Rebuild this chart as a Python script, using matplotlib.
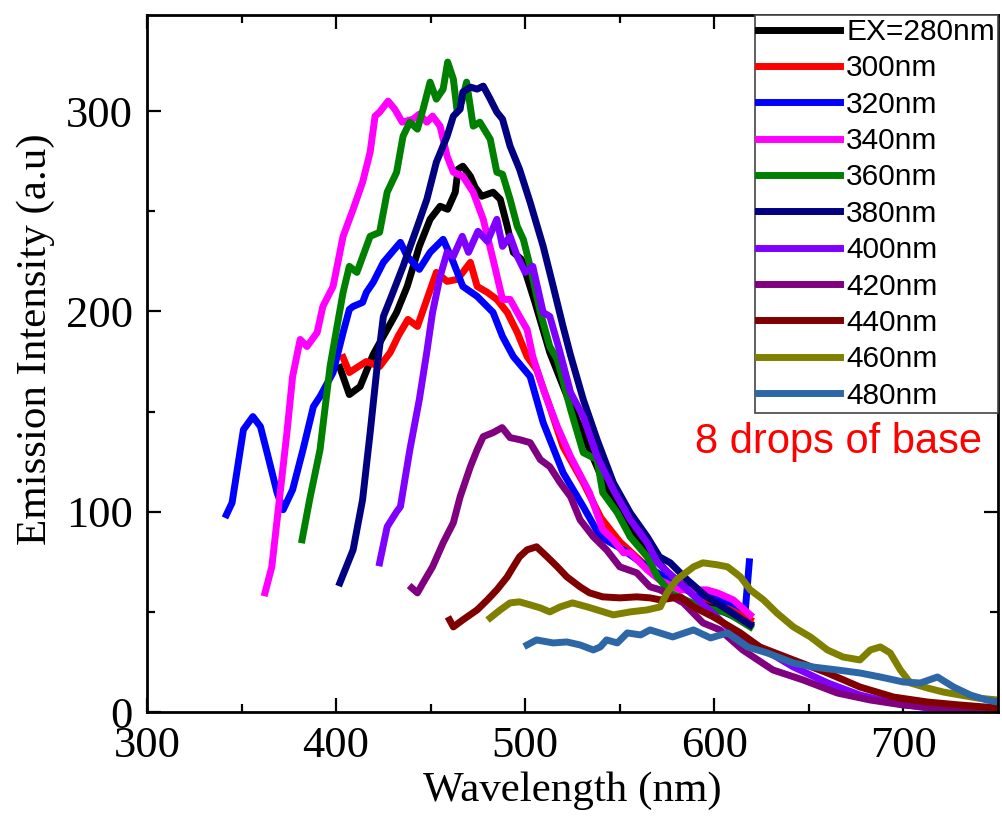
import matplotlib
matplotlib.use("Agg")
import matplotlib.pyplot as plt
from matplotlib.ticker import MultipleLocator

# emission spectra, one pair of lists per excitation wavelength
wl_280 = [402, 407, 412.7, 419.6, 432, 437.6, 444, 449.7, 455, 459, 463, 464.5, 467, 471, 473.5, 477, 483, 486.8,
          490.5, 493.7, 498, 505, 513, 522, 530, 540, 550, 560, 575, 590, 605, 619]
em_280 = [172, 158.5, 162.5, 178.5, 199.5, 212.5, 232.5, 246, 252.5, 251, 259.5, 271, 272.5, 267.5, 262, 257.5, 259.5, 256,
          242.5, 229.5, 226, 205, 179.5, 158, 140, 118, 100, 86, 70, 58, 50, 44]

wl_300 = [403.7, 407, 411, 416, 423, 428.6, 433, 438, 443, 448, 453, 458.7, 464, 467, 471, 474.6, 480, 485, 490.5,
          495.8, 501, 506, 512, 520, 530.7, 540, 550, 565, 580, 600, 619]
em_300 = [177, 169.5, 172, 175, 172.5, 179.5, 188, 196, 192.5, 206, 219.5, 215, 216, 219.5, 224.5, 212.5, 209.5, 206, 199.5,
          189.5, 177.5, 171, 155, 132.5, 114.5, 97, 85, 72, 63, 55, 46]

wl_320 = [342, 345, 351, 356, 360, 363.5, 368.8, 372, 377, 382.5, 388, 391.5, 398.4, 403.7, 407, 409, 414, 416, 419.6,
          425, 434, 437.6, 444, 449.7, 456.6, 462, 467, 474.6, 483, 488, 493.7, 502.6, 509.5, 520, 530.7, 539.7, 551.8,
          564.5, 580, 595, 608, 616.4, 618.5]
em_320 = [98.5, 104.5, 141, 147.5, 142.5, 129.5, 109.5, 101, 111, 131, 152.5, 157.5, 169.5, 189.5, 201, 202.5, 204.5, 209.5, 214.5,
          224.5, 234.5, 227.5, 221, 229.5, 236, 224.5, 212.5, 207.5, 199.5, 187.5, 177.5, 167.5, 144.5, 119.5, 102.5, 87.5, 81,
          72.5, 64, 58, 55, 51, 75]

wl_340 = [362.4, 366, 370, 374, 377, 381, 384.6, 390, 393, 398.4, 403.7, 409, 414, 418, 420.6, 423, 427.5, 431, 435,
          440.7, 444, 448, 451, 455, 458.7, 462, 467, 472.5, 477.8, 483, 488, 492, 497, 501, 504, 510, 517, 524, 534,
          541, 546.5, 552, 555.5, 564.5, 571, 582, 596, 601.6, 610, 619]
em_340 = [59.5, 72.5, 106, 139.5, 167.5, 186, 182.5, 189.5, 202.5, 212.5, 237.5, 251, 264.5, 279.5, 297.5, 299.5, 305, 301, 294.5,
          296, 298.5, 294.5, 297.5, 292.5, 277.5, 269.5, 267.5, 259.5, 246, 226, 206, 206, 197.5, 191, 177.5, 160, 142.5, 127.5, 109.5,
          91, 86, 79.5, 79.5, 71, 66, 61, 61, 59.5, 56, 48.5]

wl_360 = [382, 386, 391.5, 396.8, 400.5, 403.7, 407, 411, 418, 423, 427, 432, 435.4, 439, 443, 446, 449.7, 453, 456.6,
          459, 462, 464, 466.5, 469, 472.5, 476, 481.5, 485, 488, 492, 495.8, 499, 502.6, 508, 513, 517, 524, 530.7,
          538, 541, 548.7, 555.5, 564.5, 570, 576.7, 592.6, 607, 619]
em_360 = [86, 106, 131, 172.5, 192.5, 209.5, 222.5, 219.5, 237.5, 239.5, 259.5, 269.5, 287.5, 294.5, 291, 301, 314.5, 306, 311,
          324.5, 316, 300, 305, 314.5, 292.5, 294.5, 286, 269.5, 268.5, 256, 242.5, 236, 222.5, 199.5, 182.5, 176, 151, 129.5,
          126, 109.5, 99.5, 87.5, 77.5, 67.5, 59.5, 52.5, 49.5, 42.5]

wl_380 = [402, 409, 414, 418, 421.7, 425, 428.6, 435.4, 443, 448, 453, 458.7, 462, 465.6, 467, 471, 474.6, 477.8, 481.5,
          485, 488, 492, 497, 502.6, 509.5, 514.8, 520, 524, 530.7, 538, 546.6, 555.5, 564.5, 571, 576.7, 585.7, 596,
          607, 619]
em_380 = [64.5, 81, 106, 139.5, 172.5, 197.5, 206, 222.5, 242.5, 256, 274.5, 287.5, 297.5, 301, 309.5, 312, 311, 312.5, 306,
          299.5, 296, 282.5, 271, 254.5, 232.5, 212.5, 192.5, 178, 156, 136, 114.5, 99.5, 87.5, 77.5, 74.5, 66, 57.5,
          51, 43.5]

wl_400 = [423, 427, 432, 434, 439, 444, 448, 451, 455, 458.7, 462, 466.7, 470, 475, 480, 485, 488, 492, 495.8, 500, 504,
          509.5, 513, 518, 524, 530.7, 538, 546.6, 555.5, 564.5, 570, 585.7, 607, 624, 641.8, 660, 677, 694.7, 712.7,
          730, 750]
em_400 = [74.5, 92.5, 100, 102.5, 131, 156, 180, 199.5, 217.5, 229.5, 227.5, 237.5, 229.5, 240, 235, 246, 232.5, 237.5, 227.5, 219.5, 222.5,
          199.5, 197.5, 181, 159.5, 147.5, 127.5, 111, 96, 84.5, 74.5, 61, 42.5, 32.5, 22.5, 14.5, 8.5, 4.5, 2,
          1, 0.5]

wl_420 = [440, 443, 446, 451, 456.6, 462, 465.6, 471, 474.6, 477.8, 483, 487.8, 492, 497, 502.6, 508, 513, 518.5, 524,
          529, 536, 543, 550, 559, 566, 571.4, 583.6, 594, 603, 615, 631, 647, 665, 682.5, 700, 730, 750]
em_420 = [62, 59.5, 64.5, 72.5, 84.5, 94.5, 107.5, 122.5, 131, 137.5, 139.5, 142, 137, 136, 134.5, 126, 122.5, 114.5, 107.5,
          96, 87.5, 81, 72.5, 69.5, 62.5, 61, 54.5, 44.5, 41, 31, 21, 16, 9.5, 6, 3.5, 1, 0.5]

wl_440 = [460, 462, 467, 474.6, 480, 485, 490.5, 493.7, 497, 501, 506, 511.6, 517, 522, 529, 534, 541, 550, 559, 566,
          571.4, 582, 589, 599.5, 613.8, 624, 641.8, 659.8, 677, 694.7, 712.7, 730, 750]
em_440 = [46, 42.5, 46, 51, 56, 61, 67.5, 72.5, 77.5, 81, 82.5, 77.5, 72.5, 67.5, 62.5, 59.5, 57.5, 57, 57.5, 57,
          56, 57.5, 52.5, 47.5, 39.5, 32.5, 26, 19.5, 12.5, 7.5, 5, 3.5, 2]

wl_460 = [481.5, 486.8, 492, 497, 502.6, 508, 513, 518.5, 525, 532.8, 538, 546.6, 555.5, 564.5, 571.4, 575, 580, 589,
          594, 601.6, 607, 613.8, 619, 626, 633, 641.8, 650.8, 659.8, 668, 677, 682.5, 687.8, 693, 698.4, 703.7, 712.7,
          721, 730, 739, 750]
em_460 = [47, 51, 54.5, 55, 53.5, 52, 50, 52.5, 54.5, 52.5, 51, 48.5, 50, 51, 52.5, 59.5, 66, 72.5,
          74.5, 73.5, 72.5, 67.5, 61, 56, 49.5, 42.5, 37.5, 31, 27.5, 26, 31, 32.5, 29.5, 21, 14.5, 12,
          10, 8.5, 7, 6]

wl_480 = [501, 506, 514.8, 522, 529, 536, 539.7, 543, 548.7, 554, 561, 566, 578, 589, 598, 607, 617.5, 628, 641.8,
          652, 665, 677, 687.8, 700, 709, 718, 726.5, 735.4, 744, 750]
em_480 = [33.5, 36, 34.5, 35, 33.5, 31, 32.5, 36, 34.5, 39.5, 38.5, 41, 37.5, 41, 37, 39.5, 32.5, 29.5, 24.5,
          22.5, 21, 19.5, 17.5, 15, 14.5, 17.5, 12.5, 8.5, 6, 5]

labels = ["EX=280nm", "300nm", "320nm", "340nm", "360nm", "380nm", "400nm", "420nm", "440nm", "460nm", "480nm"]
colors = ["black", "#ff0000", "#0000ff", "#ff00ff", "#008000", "#000080", "#8000ff", "#800080", "#800000",
          "#808000", "#2e67a6"]
series = [(wl_280, em_280), (wl_300, em_300), (wl_320, em_320), (wl_340, em_340), (wl_360, em_360),
          (wl_380, em_380), (wl_400, em_400), (wl_420, em_420), (wl_440, em_440), (wl_460, em_460),
          (wl_480, em_480)]

fig = plt.figure(figsize=(10.02, 8.19), dpi=100)
ax = fig.add_axes([0.1467, 0.1306, 0.8493, 0.8511])

for (x, y), c, lab in zip(series, colors, labels):
    ax.plot(x, y, color=c, lw=5, label=lab)

ax.set_xlim(300, 750)
ax.set_ylim(0, 348)
ax.xaxis.set_major_locator(MultipleLocator(100))
ax.xaxis.set_minor_locator(MultipleLocator(50))
ax.yaxis.set_major_locator(MultipleLocator(100))
ax.yaxis.set_minor_locator(MultipleLocator(50))

serif = "Liberation Serif"
ax.tick_params(which="both", direction="in", top=True, right=True, width=1.6)
ax.tick_params(which="major", length=10, pad=10)
ax.tick_params(which="minor", length=6)
for t in ax.get_xticklabels() + ax.get_yticklabels():
    t.set_fontfamily(serif)
    t.set_fontsize(32)
for s in ax.spines.values():
    s.set_linewidth(2)

ax.set_xlabel("Wavelength (nm)", fontfamily=serif, fontsize=31)
ax.set_ylabel("Emission Intensity (a.u)", fontfamily=serif, fontsize=31)
ax.xaxis.set_label_coords(0.5, -0.085)
ax.yaxis.set_label_coords(-0.108, 0.535)

leg = ax.legend(loc="upper right", bbox_to_anchor=(1, 1), borderaxespad=0, fancybox=False,
                prop={"family": "Liberation Sans", "size": 21.5}, handlelength=2.75, handletextpad=0.22,
                labelspacing=0.28, borderpad=0.1, framealpha=1)
leg.get_frame().set_edgecolor("#444444")
leg.get_frame().set_linewidth(1.2)
for line in leg.get_lines():
    line.set_linewidth(5)

ax.text(590, 135, "8 drops of base", color="red", fontsize=30, family="Liberation Sans",
        ha="left", va="center")

fig.savefig("out.png", dpi=100)
